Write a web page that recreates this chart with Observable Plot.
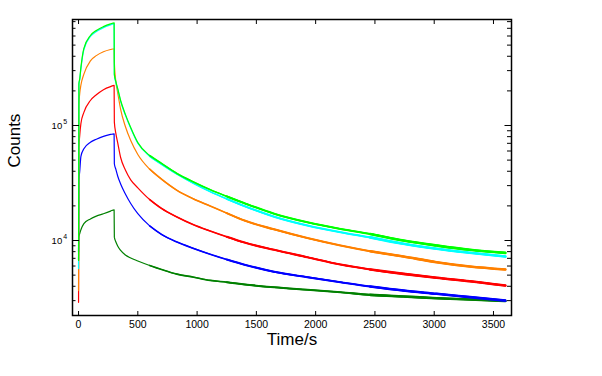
<!DOCTYPE html>
<html><head><meta charset="utf-8">
<script src="https://cdn.jsdelivr.net/npm/d3@7"></script>
<script src="https://cdn.jsdelivr.net/npm/@observablehq/plot@0.6"></script>
<style>html,body{margin:0;padding:0;background:#fff}svg{display:block}</style>
</head><body><div id="chart"></div>
<script>
// time (s)
const times = [0, 3, 10, 20, 45, 100, 150, 210, 270, 300, 302, 315, 330, 355, 395, 440, 500, 600, 700, 830, 970, 1110, 1250, 1400, 1650, 1930, 2210, 2460, 2740, 3020, 3300, 3600];
// counts per series
const limeVals   = [6700, 232000, 255000, 320000, 468000, 606000, 670000, 724000, 765000, 781000, 280000, 240000, 210000, 165000, 125000, 96000, 71000, 54800, 46800, 38300, 32300, 27700, 24200, 21100, 17100, 14400, 12600, 11400, 10000, 9050, 8300, 7800];
const cyanVals   = [5700, 225000, 250000, 312000, 458000, 594000, 656000, 710000, 750000, 768000, 275000, 236000, 207000, 162000, 123000, 94500, 70000, 54000, 46000, 37800, 31400, 26600, 23000, 19900, 16100, 13500, 11800, 10650, 9360, 8470, 7820, 7250];
const orangeVals = [3670, 150000, 190000, 225000, 280000, 365000, 405000, 438000, 458000, 465000, 353000, 240000, 194000, 138000, 98000, 74000, 56000, 41700, 34100, 27300, 23000, 19950, 17300, 14900, 12500, 10500, 9050, 8070, 7260, 6480, 5940, 5600];
const redVals    = [2900, 64000, 82000, 104000, 130000, 165000, 185000, 205000, 218000, 223000, 107000, 85000, 71000, 52700, 41000, 33700, 28700, 22700, 19000, 16000, 13700, 12100, 10770, 9600, 8300, 7160, 6180, 5600, 5130, 4740, 4430, 4060];
const blueVals   = [8000, 33000, 40000, 54000, 62700, 71600, 76000, 80500, 83600, 84700, 46500, 41500, 36400, 31000, 25400, 21000, 17100, 13400, 11300, 9700, 8540, 7600, 6830, 6160, 5340, 4800, 4340, 3980, 3670, 3440, 3220, 3000];
const greenVals  = [6700, 10700, 11500, 12400, 14000, 15400, 16300, 17100, 18000, 18500, 10700, 9700, 8960, 8190, 7480, 7050, 6640, 6070, 5600, 5100, 4800, 4500, 4340, 4150, 3920, 3730, 3550, 3370, 3260, 3150, 3070, 2980];

const seriesNames  = ["S1", "S2", "S3", "S4", "S5", "S6"];
const seriesColors = ["#008000", "#0000ff", "#ff0000", "#ff8000", "#00ffff", "#00ff00"];
const seriesValues = [greenVals, blueVals, redVals, orangeVals, cyanVals, limeVals];

const xTicks = [0, 500, 1000, 1500, 2000, 2500, 3000, 3500];
const yMinorTicks = [3000, 4000, 5000, 6000, 7000, 8000, 9000, 20000, 30000, 40000, 50000, 60000, 70000, 80000, 90000, 200000, 300000, 400000, 500000, 600000, 700000, 800000];
const yMajorTicks = [10000, 100000];
const yExponents = ["4", "5"];

const rows = [];
seriesNames.forEach((name, si) => {
  seriesValues[si].forEach((v, i) => rows.push({series: name, t: times[i], v}));
});

const font = "'Liberation Sans', Arial, sans-serif";
const lineOpts = (w) => ({x: "t", y: "v", z: "series", stroke: "series", strokeWidth: w, curve: "monotone-x"});
const chart = Plot.plot({
  width: 602, height: 376,
  marginLeft: 72, marginRight: 91, marginTop: 19, marginBottom: 61,
  style: {fontFamily: font, background: "#fff", color: "#000"},
  x: {domain: [-51, 3652], axis: null},
  y: {type: "log", domain: [2228, 835000], axis: null},
  color: {type: "ordinal", domain: seriesNames, range: seriesColors},
  marks: [
    Plot.line(rows, lineOpts(1.2)),
    Plot.line(rows.filter(d => d.t >= 600), lineOpts(1.6)),
    Plot.line(rows.filter(d => d.t >= 1250), lineOpts(2.1)),
    Plot.line(rows.filter(d => d.t >= 2460), lineOpts(2.6)),
    Plot.frame({stroke: "#000", strokeWidth: 1.5}),
    // x axis: inward ticks top & bottom, labels below
    Plot.axisX(xTicks, {anchor: "bottom", tickSize: -4, tickFormat: () => "", label: null}),
    Plot.axisX(xTicks, {anchor: "top", tickSize: -4, tickFormat: () => "", label: null}),
    Plot.axisX(xTicks, {anchor: "bottom", tickSize: 0, tickPadding: 5, fontSize: 10.5, tickFormat: d => String(d), label: null}),
    // y axis: inward ticks left & right
    Plot.axisY(yMinorTicks, {anchor: "left", tickSize: -3.5, tickFormat: () => "", label: null}),
    Plot.axisY(yMajorTicks, {anchor: "left", tickSize: -7, tickFormat: () => "", label: null}),
    Plot.axisY(yMinorTicks, {anchor: "right", tickSize: -5, tickFormat: () => "", label: null}),
    Plot.axisY(yMajorTicks, {anchor: "right", tickSize: -7.5, tickFormat: () => "", label: null}),
    // y labels 10^n
    Plot.text(yMajorTicks, {y: d => d, frameAnchor: "left", text: () => "10", textAnchor: "end", dx: -10.3, fontSize: 9.5}),
    Plot.text(yMajorTicks, {y: d => d, frameAnchor: "left", text: (d, i) => yExponents[i], textAnchor: "start", dx: -9.3, dy: -4, fontSize: 7}),
    // axis titles
    Plot.text(["Counts"], {frameAnchor: "left", text: d => d, rotate: -90, dx: -57.5, fontSize: 17}),
    Plot.text(["Time/s"], {frameAnchor: "bottom", text: d => d, dy: 29, fontSize: 17})
  ]
});
document.getElementById("chart").appendChild(chart);
</script>
</body></html>
